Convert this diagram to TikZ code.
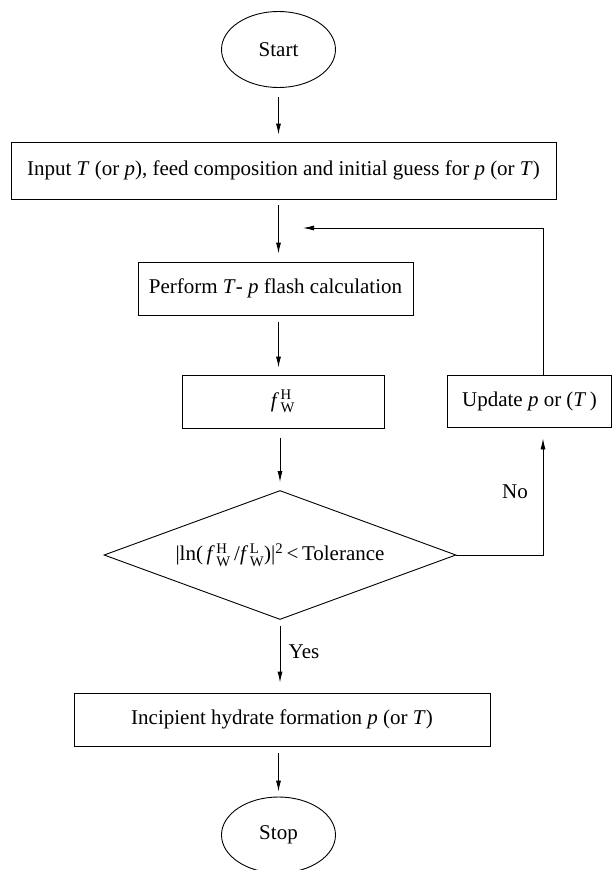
\documentclass[tikz,border=0pt]{standalone}
\usepackage{amsmath}
\usepackage{fontspec}
\setmainfont{Liberation Serif}
\usetikzlibrary{shapes.geometric,arrows.meta}
\begin{document}
\begin{tikzpicture}[x=1pt,y=-1pt,
  every node/.style={font=\fontsize{21}{25}\selectfont},
  boxnode/.style={draw, line width=0.9pt, rectangle, inner sep=0pt},
  ovalnode/.style={draw, line width=0.9pt, ellipse, minimum width=114pt, minimum height=76pt, inner sep=0pt},
  decnode/.style={draw, line width=0.9pt, diamond, aspect=2.73, minimum width=352pt, minimum height=129pt, inner sep=0pt},
  flow/.style={line width=0.9pt, -{Latex[length=11pt,width=5pt]}},
  lbl/.style={inner sep=0pt}]
\useasboundingbox (0,0) rectangle (613,870);
\node[ovalnode] (start) at (278.5,49.5) {Start};
\node[boxnode, minimum width=545pt, minimum height=57pt] (input) at (283.5,170.5)
  {Input \textit{T} (or \textit{p}), feed composition and initial guess for \textit{p} (or \textit{T})};
\node[boxnode, minimum width=275pt, minimum height=53pt] (perform) at (275.5,288.5)
  {Perform \textit{T}- \textit{p} flash calculation};
\node[boxnode, minimum width=202pt, minimum height=53pt] (fw) at (283,401.5)
  {\textit{f}\kern1.5pt$^{\text{H}}_{\text{W}}$};
\node[boxnode, minimum width=164pt, minimum height=52pt] (update) at (529.5,401)
  {Update \textit{p} or (\textit{T}\,)};
\node[decnode] (dec) at (280,555)
  {|ln(\,\textit{f}\kern1.5pt$^{\text{H}}_{\text{W}}$\,/\textit{f}\kern1.5pt$^{\text{L}}_{\text{W}}$)|$^{\text{2}}$\,<\,Tolerance};
\node[boxnode, minimum width=416pt, minimum height=53pt] (inc) at (282,719.5)
  {Incipient hydrate formation \textit{p} (or \textit{T})};
\node[ovalnode] (stop) at (278.5,835) {Stop};
\coordinate (fbx) at (543,228);
\coordinate (fbtip) at (303,228);
\coordinate (nocorner) at (543,555);
\node[lbl] (no) at (515,492) {No};
\node[lbl] (yes) at (304,652) {Yes};
\draw[flow, shorten <=9.5pt, shorten >=7pt] (start.south) -- (start.south |- input.north);
\draw[flow, shorten <=6pt, shorten >=8pt] (start.south |- input.south) -- (start.south |- perform.north);
\draw[flow] (update.north -| fbx) -- (fbx) -- (fbtip);
\draw[flow, shorten <=7pt, shorten >=7pt] (start.south |- perform.south) -- (start.south |- fw.north);
\draw[flow, shorten <=10pt, shorten >=8pt] (dec.north |- fw.south) -- (dec.north);
\draw[flow, shorten >=11pt] (dec.east) -- (nocorner) -- (update.south -| nocorner);
\draw[flow, shorten <=6pt, shorten >=10pt] (dec.south) -- (dec.south |- inc.north);
\draw[flow, shorten <=7pt, shorten >=5pt] (stop.north |- inc.south) -- (stop.north);
\end{tikzpicture}
\end{document}
